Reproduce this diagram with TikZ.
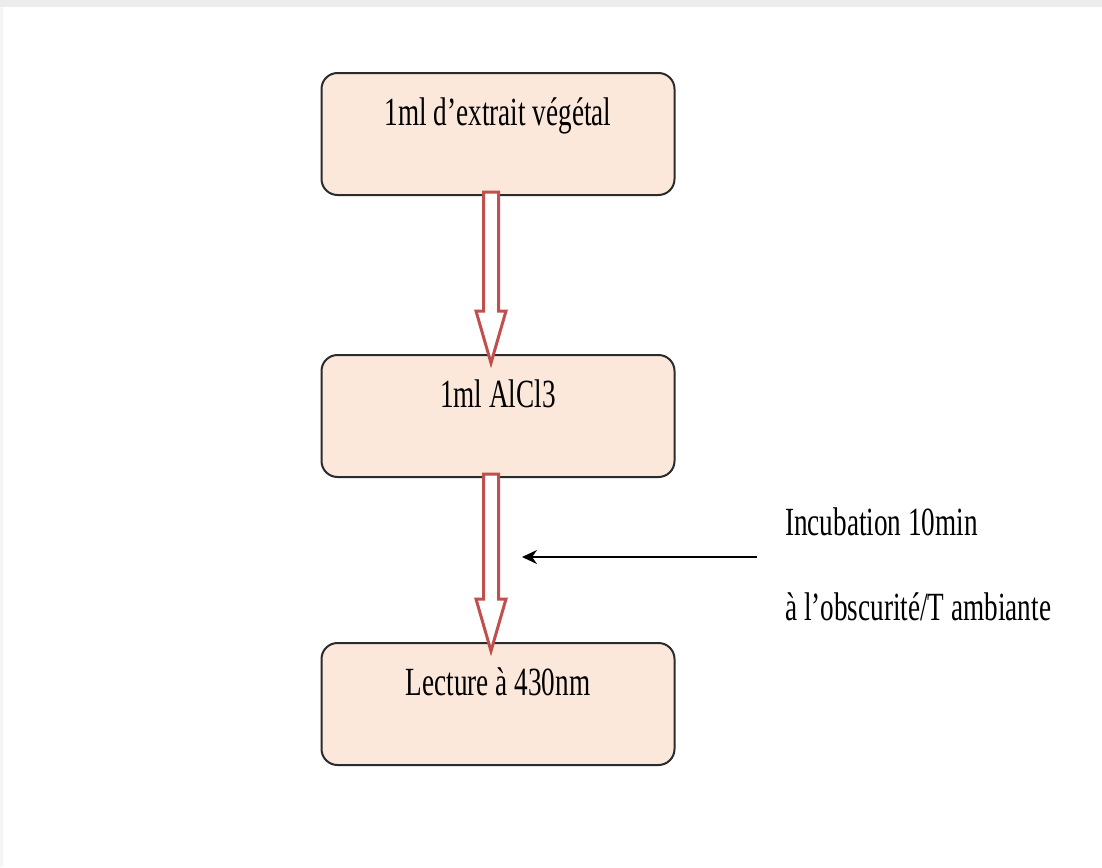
\documentclass[tikz,border=0pt]{standalone}
\usepackage{fontspec}
\setmainfont{Liberation Serif}[FakeStretch=0.68]
\usetikzlibrary{positioning, calc, arrows.meta}

\definecolor{peach}{HTML}{FCE8DA}
\definecolor{arrowred}{HTML}{C0504D}
\definecolor{edgegray}{HTML}{2B2B2B}

\tikzset{
  stepbox/.style={draw=edgegray, line width=2pt, fill=peach, rounded corners=16pt,
    minimum width=353pt, inner sep=0pt, text height=52pt, text depth=70pt,
    font=\fontsize{40}{46}\selectfont},
  notetext/.style={inner sep=0pt, anchor=base west, font=\fontsize{40}{46}\selectfont},
  hollow/.style={draw=arrowred, line width=3pt, fill=white, line join=miter}
}

% hollow block arrow from one box to the next
\newcommand{\flowarrow}[2]{
  \path[hollow] let \p1=($(#1.south)+(-7,-4)$), \p2=($(#2.north)+(-7,9)$) in
    (\x1-7.5pt,\y1) -- (\x1-7.5pt,\y2+52pt) -- (\x1-15pt,\y2+52pt) -- (\x2,\y2)
    -- (\x1+15pt,\y2+52pt) -- (\x1+7.5pt,\y2+52pt) -- (\x1+7.5pt,\y1) -- cycle;
}

\begin{document}
\begin{tikzpicture}[x=1pt, y=-1pt, node distance=282pt, on grid]
  \useasboundingbox (0,0) rectangle (1102,867);
  \fill[gray!15] (0,0) rectangle (1102,7);
  \fill[gray!8] (0,7) rectangle (3,867);

  \node[stepbox] (extrait) at (498,134) {1ml d’extrait végétal};
  \node[stepbox] (alcl) [below=of extrait] {1ml AlCl3};
  \node[stepbox] (lecture) [below=288pt of alcl] {Lecture à 430nm};

  \flowarrow{extrait}{alcl}
  \flowarrow{alcl}{lecture}

  \node[notetext] (incub) at (785,535) {Incubation 10min};
  \node[notetext] (obsc) at (785,620) {à l’obscurité/T ambiante};

  \coordinate (from) at (757,557);
  \coordinate (into) at (522,557);
  \draw[line width=2pt, -{Stealth[length=15pt, width=14pt]}] (from) -- (into);
\end{tikzpicture}
\end{document}
